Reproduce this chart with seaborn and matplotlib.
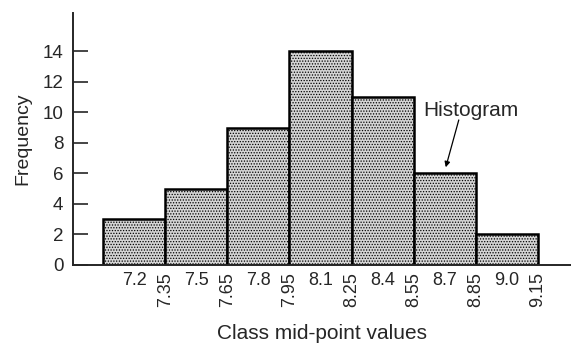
import numpy as np
import matplotlib
matplotlib.use('Agg')
import matplotlib.pyplot as plt
import seaborn as sns

# class data
mid_points = [7.2, 7.5, 7.8, 8.1, 8.4, 8.7, 9.0]
frequency = [3, 5, 9, 14, 11, 6, 2]
boundaries = [7.05, 7.35, 7.65, 7.95, 8.25, 8.55, 8.85, 9.15]
mid_labels = ['7.2', '7.5', '7.8', '8.1', '8.4', '8.7', '9.0']
boundary_labels = ['7.35', '7.65', '7.95', '8.25', '8.55', '8.85', '9.15']
y_ticks = [0, 2, 4, 6, 8, 10, 12, 14]

sns.set_style('ticks')
plt.rcParams['font.family'] = ['Liberation Sans', 'DejaVu Sans']
plt.rcParams['hatch.color'] = '#606060'
plt.rcParams['hatch.linewidth'] = 0.6

fig = plt.figure(figsize=(5.71, 3.45), dpi=100)
ax = fig.add_axes([0.128, 0.232, 0.872, 0.73])

sns.histplot(x=mid_points, weights=frequency, bins=boundaries, ax=ax,
             color='#d4d4d4', alpha=1, edgecolor='black', linewidth=1.8,
             hatch='......')

ax.set_xlim(6.905, 9.31)
ax.set_ylim(0, 16.5)

ax.spines['top'].set_visible(False)
ax.spines['right'].set_visible(False)
for s in ['left', 'bottom']:
    ax.spines[s].set_linewidth(1.4)

ax.set_yticks(y_ticks)
ax.set_yticklabels([str(v) for v in y_ticks], fontsize=13.5)
ax.tick_params(axis='y', direction='in', length=11, width=1.2, pad=7)

ax.set_xticks(mid_points)
ax.set_xticklabels(mid_labels, fontsize=13)
ax.tick_params(axis='x', which='major', direction='in', length=6, width=1.2, pad=5)
ax.set_xticks(boundaries[1:], minor=True)
ax.set_xticklabels(boundary_labels, minor=True, rotation=90, fontsize=13)
ax.tick_params(axis='x', which='minor', length=0, pad=5)

ax.set_xlabel('Class mid-point values', fontsize=15, labelpad=12)
ax.set_ylabel('Frequency', fontsize=14, labelpad=8)

ax.text(8.598, 10.1, 'Histogram', fontsize=15, ha='left', va='center')
ax.annotate('', xy=(8.705, 6.4), xytext=(8.768, 9.5),
            arrowprops=dict(arrowstyle='-|>', color='black', lw=0.9,
                            shrinkA=0, shrinkB=0, mutation_scale=8))

fig.savefig('out.png', dpi=100)
